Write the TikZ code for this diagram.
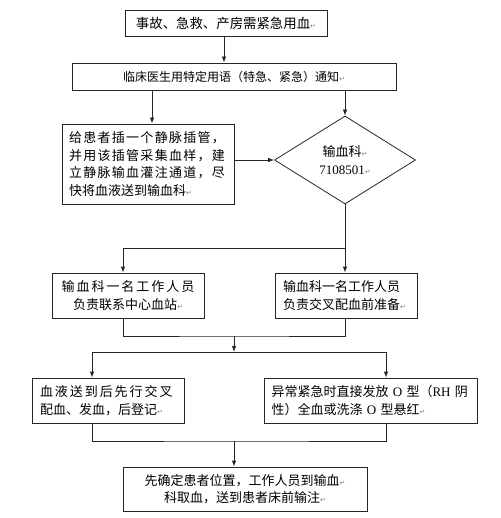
\documentclass[tikz,border=0pt]{standalone}
\usepackage{fontspec}
\usetikzlibrary{arrows.meta,shapes.geometric,calc}
\newfontfamily\cjk{Noto Sans CJK SC}
\newfontfamily\cjkls[LetterSpace=10]{Noto Sans CJK SC}
\newfontfamily\cjkwide[LetterSpace=15]{Noto Sans CJK SC}
\newfontfamily\latf{Liberation Serif}
\newfontfamily\symf{DejaVu Sans}
\newcommand{\rmk}{{\symf\fontsize{7}{7}\selectfont\color{gray}↵}}
\tikzset{
  box/.style={draw=black!85, line width=0.8pt, inner sep=0pt, font=\cjk\fontsize{13}{17.5}\selectfont},
  arr/.style={draw=black!85, line width=0.8pt, -{Latex[length=6pt,width=4.5pt]}},
  ln/.style={draw=black!85, line width=0.8pt}
}
\begin{document}
\begin{tikzpicture}[x=1pt,y=-1pt]
\useasboundingbox[fill=white] (0,0) rectangle (500,518);
\node[box, minimum width=202pt, minimum height=26pt, font=\cjk\fontsize{13.4}{17.5}\selectfont] (b1) at (226,23) {事故、急救、产房需紧急用血\rmk};
\node[box, minimum width=324pt, minimum height=27pt, font=\cjk\fontsize{12}{16}\selectfont] (b2) at (234,76.5) {临床医生用特定用语（特急、紧急）通知\rmk};
\node[box, minimum width=172pt, minimum height=80pt, text width=158pt, align=left] (b3) at (148,164)
  {{\cjkls 给患者插一个静脉插管，}\\{\cjkls 并用该插管采集血样，建}\\{\cjkls 立静脉输血灌注通道，尽}\\快将血液送到输血科\rmk};
\node[draw=black!85, line width=0.8pt, diamond, aspect=1.6, minimum width=141pt, minimum height=88pt, inner sep=0pt, align=center, font=\cjk\fontsize{13}{18}\selectfont] (dia) at (345,160)
  {输血科\rmk\\{\latf 7108501}\rmk};
\node[box, minimum width=152pt, minimum height=45pt, align=center] (b4) at (128,295.5)
  {{\cjkwide 输血科一名工作人员}\\负责联系中心血站\rmk};
\node[box, minimum width=142pt, minimum height=45pt, text width=126pt, align=left] (b5) at (346,295.5)
  {输血科一名工作人员\\负责交叉配血前准备\rmk};
\node[box, minimum width=152pt, minimum height=45pt, text width=136pt, align=left] (b6) at (108,400.5)
  {{\cjkwide 血液送到后先行交叉}\\配血、发血，后登记\rmk};
\node[box, minimum width=213pt, minimum height=45pt, text width=198pt, align=left] (b7) at (370.5,400.5)
  {异常紧急时直接发放{\latf\ O\ }型（{\latf RH} 阴\\性）全血或洗涤{\latf\ O\ }型悬红\rmk};
\node[box, minimum width=244pt, minimum height=44pt, align=center] (b8) at (245,489)
  {先确定患者位置，工作人员到输血\rmk\\科取血，送到患者床前输注\rmk};
% coordinates
\coordinate (top1) at (224,36);
\coordinate (b3in) at ([xshift=4pt]b3.north);
\coordinate (s1) at (345,248);
\coordinate (b4in) at ([xshift=-5pt]b4.north);
\coordinate (b4out) at ([xshift=-5pt]b4.south);
\coordinate (m1) at (234,336);
\coordinate (sp2) at (234,352);
\coordinate (b6in) at ([xshift=-16pt]b6.north);
\coordinate (b7in) at ([xshift=15.5pt]b7.north);
\coordinate (b6out) at ([xshift=-16pt]b6.south);
\coordinate (b7out) at ([xshift=15.5pt]b7.south);
\coordinate (m2) at (234,441);
% connectors
\draw[arr] (b1.south -| top1) -- (top1 |- b2.north);
\draw[arr] (b2.south -| b3in) -- (b3in);
\draw[arr] (b2.south -| dia.north) -- (dia.north);
\draw[arr] (b3.east |- dia.west) -- (dia.west);
\draw[arr] (dia.south) -- (s1) -| (b4in);
\draw[arr] (s1) -- (s1 |- b5.north);
\draw[ln] (b4out) |- (m1) -| (s1 |- b5.south);
\draw[arr] (m1) -- (sp2);
\draw[arr] (sp2) -| (b6in);
\draw[arr] (sp2) -| (b7in);
\draw[ln] (b6out) |- (m2) -| (b7out);
\draw[arr] (m2) -- (m2 |- b8.north);
\end{tikzpicture}
\end{document}
